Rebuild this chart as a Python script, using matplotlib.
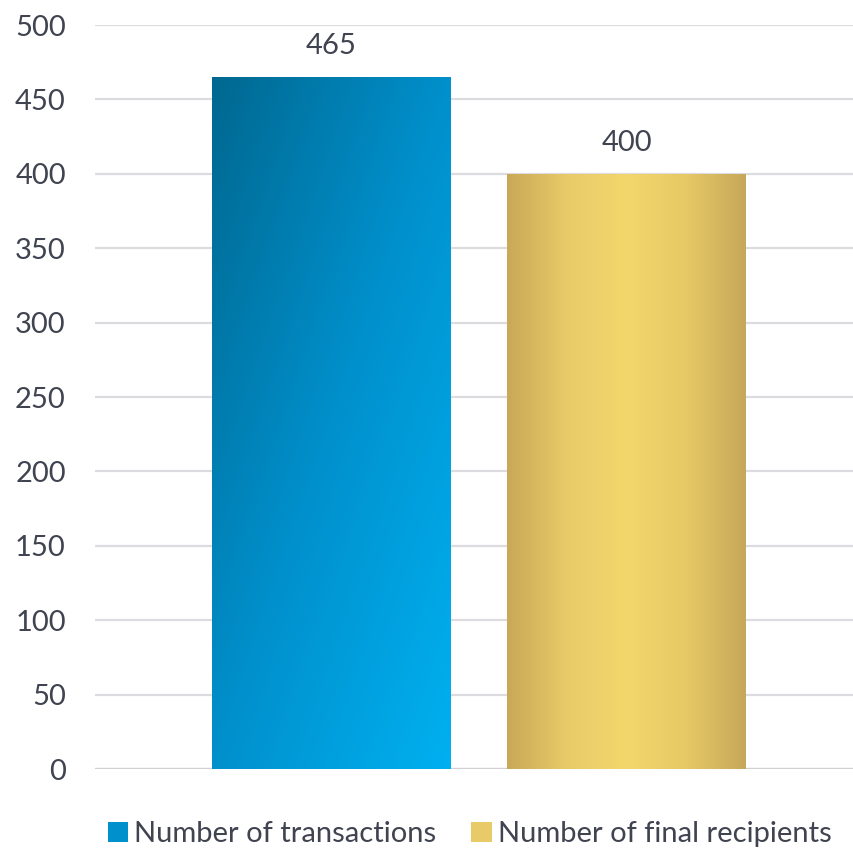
import numpy as np
import matplotlib.pyplot as plt
from matplotlib.patches import Rectangle
from matplotlib.colors import LinearSegmentedColormap

plt.rcParams['font.family'] = ['Lato', 'DejaVu Sans']

series = ['Number of transactions', 'Number of final recipients']
values = [465, 400]
yticks = [0, 50, 100, 150, 200, 250, 300, 350, 400, 450, 500]

text_color = '#404350'
grid_color = '#dcdce0'

fig = plt.figure(figsize=(8.54, 8.48), dpi=100)
ax = fig.add_axes([95 / 854, 1 - 769 / 848, 759 / 854, 744 / 848])

ax.set_ylim(0, 500)
ax.set_xlim(-0.802, 1.771)
ax.set_yticks(yticks)
ax.set_xticks([])
ax.grid(axis='y', color=grid_color, linewidth=1.6)
ax.set_axisbelow(True)
for s in ax.spines.values():
    s.set_visible(False)
ax.tick_params(axis='y', length=0, pad=21, labelsize=21, labelcolor=text_color)
ax.axhline(0, color='#cfcfd4', linewidth=1.6, zorder=1)

# gradient fills: blue goes dark top-left to bright bottom-right,
# gold is lighter in the middle and darker at the sides
nx, ny = 200, 200
gx, gy = np.meshgrid(np.linspace(0, 1, nx), np.linspace(0, 1, ny))
blue = LinearSegmentedColormap.from_list('b', ['#006890', '#0090cc', '#00b0f0'])
gold = LinearSegmentedColormap.from_list('g', ['#c9a958', '#e8cb68', '#f3d76c', '#e7c965', '#c6a85a'])
fills = [
    (blue, 0.5 * gx + 0.5 * gy),
    (gold, gx),
]

width = 0.81
for i, (val, (cmap, grad)) in enumerate(zip(values, fills)):
    x0 = i - width / 2
    rect = Rectangle((x0, 0), width, val, facecolor='none', edgecolor='none', zorder=2)
    ax.add_patch(rect)
    im = ax.imshow(grad, cmap=cmap, extent=(x0, x0 + width, 0, val), origin='upper',
                   aspect='auto', zorder=2, interpolation='bilinear')
    im.set_clip_path(rect)
    ax.text(i, val + 12, str(val), ha='center', va='bottom', fontsize=21, color=text_color)

# legend at the bottom
handles = [Rectangle((0, 0), 1, 1, facecolor=c) for c in ['#0090cc', '#e8cb68']]
fig.legend(handles, series, loc='lower center', bbox_to_anchor=(0.55, -0.03), ncol=2,
           frameon=False, fontsize=21, labelcolor=text_color, handlelength=0.7,
           handleheight=0.7, handletextpad=0.2, columnspacing=1.2)

ax.set_aspect('auto')
fig.savefig('out.png', dpi=100)
